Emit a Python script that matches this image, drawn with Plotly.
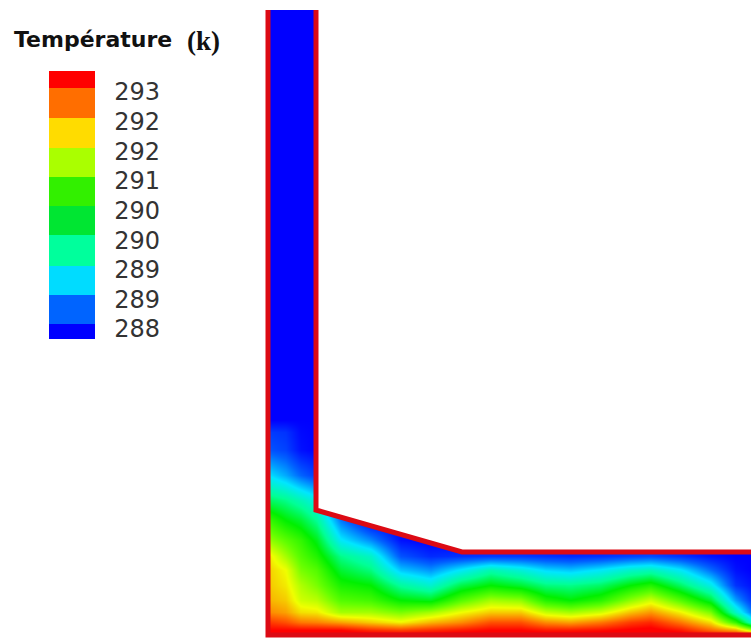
import plotly.graph_objects as go

# Temperature field (K)
x_grid = [270, 285, 300, 316, 340, 370, 400, 430, 460, 490, 520, 545, 570, 600, 630, 650, 680, 710, 735, 751]
y_grid = [10, 420, 432, 450, 475, 500, 520, 540, 556, 570, 585, 600, 612, 622, 630, 636]
T_rows = [
    [288.0] * 20,
    [288.0] * 20,
    [288.35, 288.3, 288.05, 288.0] + [288.0] * 16,
    [288.5, 288.4, 288.1, 288.0] + [288.0] * 16,
    [289.2, 288.95, 288.6, 288.35] + [288.0] * 16,
    [290.1, 289.95, 289.7, 289.4] + [288.0] * 16,
    [290.8, 290.5, 290.3, 289.9, 288.7] + [288.0] * 15,
    [291.3, 291.05, 290.8, 290.4, 289.3, 288.8, 288.1] + [288.0] * 13,
    [291.8, 291.4, 291.0, 290.7, 289.95, 289.6, 288.5, 288.25, 288.3, 288.35, 288.35, 288.3, 288.25, 288.3, 288.4, 288.45, 288.3, 288.1, 288.0, 288.0],
    [291.95, 291.75, 291.2, 291.0, 290.3, 290.0, 289.1, 288.85, 289.3, 289.75, 289.5, 289.2, 289.1, 289.3, 289.6, 289.7, 289.3, 288.65, 288.1, 288.0],
    [292.0, 291.85, 291.45, 291.2, 290.65, 290.5, 289.85, 289.55, 290.2, 290.5, 290.3, 290.0, 289.95, 290.1, 290.5, 290.7, 290.1, 289.4, 288.3, 288.1],
    [292.1, 292.0, 291.6, 291.5, 291.0, 290.9, 290.5, 290.4, 291.0, 291.4, 291.3, 290.7, 290.5, 290.75, 291.3, 291.6, 291.0, 290.3, 288.9, 288.3],
    [292.3, 292.2, 291.9, 291.85, 291.4, 291.4, 291.2, 291.4, 291.75, 292.0, 292.0, 291.55, 291.4, 291.6, 292.05, 292.25, 291.8, 291.2, 289.6, 288.7],
    [292.7, 292.6, 292.4, 292.35, 292.2, 292.0, 291.8, 292.1, 292.3, 292.6, 292.6, 292.3, 292.2, 292.4, 292.7, 292.8, 292.4, 291.9, 290.8, 289.6],
    [293.0, 293.0, 293.0, 293.0, 293.0, 292.8, 292.7, 292.8, 292.9, 293.0, 293.0, 292.9, 292.9, 292.95, 293.05, 293.1, 292.9, 292.5, 292.2, 291.5],
    [293.2] * 20,
]

# Everything outside the channel stays white
outside_x = [0, 751, 751, 462, 316, 316, 268, 268, 751, 751, 0]
outside_y = [0, 0, 552, 552, 510, 10, 10, 636, 636, 639, 639]
inner_wall_x = [316, 316, 462, 751]
inner_wall_y = [10, 510, 552, 552]
outer_wall_x = [268, 268, 751]
outer_wall_y = [10, 635, 635]

# Legend
band_edges = [287.79, 288.11, 288.72, 289.33, 289.98, 290.59, 291.21, 291.82, 292.45, 293.08, 293.44]
band_colors = ["#0000ff", "#0064ff", "#00dcff", "#00ff9c", "#00e632", "#32f000",
               "#aaff00", "#ffdc00", "#ff6e00", "#ff0000"]
tick_values = [293, 292.375, 291.75, 291.125, 290.5, 289.875, 289.25, 288.625, 288]
tick_labels = ["293", "292", "292", "291", "290", "290", "289", "289", "288"]
field_stops = [
    (288.0, "#0000ff"), (288.6, "#0064ff"), (289.25, "#00e6ff"), (289.9, "#00ff96"),
    (290.5, "#00f000"), (291.1, "#64ff00"), (291.75, "#f0ff00"), (292.4, "#ff7800"),
    (293.0, "#ff0000"),
]

cmin, cmax = band_edges[0], band_edges[-1]
norm = lambda v: (v - cmin) / (cmax - cmin)
field_scale = [[0, field_stops[0][1]]] + [[norm(v), c] for v, c in field_stops] + [[1, field_stops[-1][1]]]
step_scale = []
for i, c in enumerate(band_colors):
    step_scale += [[norm(band_edges[i]), c], [norm(band_edges[i + 1]), c]]

fig = go.Figure()
fig.add_trace(go.Heatmap(x=x_grid, y=y_grid, z=T_rows, zsmooth="best", zmin=cmin, zmax=cmax,
                         colorscale=field_scale, showscale=False, hoverinfo="skip"))
fig.add_trace(go.Scatter(x=outside_x, y=outside_y, fill="toself", fillcolor="white", mode="none",
                         hoverinfo="skip", showlegend=False))
for wx, wy in ((inner_wall_x, inner_wall_y), (outer_wall_x, outer_wall_y)):
    fig.add_trace(go.Scatter(x=wx, y=wy, mode="lines", line=dict(color="#dc0a14", width=5),
                             hoverinfo="skip", showlegend=False))
fig.add_trace(go.Scatter(
    x=[None] * len(band_edges), y=[None] * len(band_edges), mode="markers", showlegend=False,
    marker=dict(color=band_edges, cmin=cmin, cmax=cmax, colorscale=step_scale, showscale=True,
                colorbar=dict(thickness=46, thicknessmode="pixels", len=268, lenmode="pixels",
                              x=49 / 751, xanchor="left", y=1 - 71 / 639, yanchor="top",
                              xpad=0, ypad=0, outlinewidth=0, borderwidth=0,
                              tickmode="array", tickvals=tick_values, ticktext=tick_labels,
                              ticks="outside", ticklen=15, tickcolor="rgba(0,0,0,0)",
                              tickfont=dict(family="DejaVu Sans", size=24, color="#333333"))),
))

fig.update_layout(
    width=751, height=639, margin=dict(l=0, r=0, t=0, b=0, autoexpand=False),
    paper_bgcolor="white", plot_bgcolor="white", showlegend=False,
    xaxis=dict(range=[0, 751], visible=False, fixedrange=True),
    yaxis=dict(range=[639, 0], visible=False, fixedrange=True),
    annotations=[
        dict(text="<b>Température</b>", x=12, y=39, xref="x", yref="y", xanchor="left", yanchor="middle",
             showarrow=False, font=dict(family="DejaVu Sans", size=22, color="#111111")),
        dict(text="<b>(k)</b>", x=185, y=41, xref="x", yref="y", xanchor="left", yanchor="middle",
             showarrow=False, font=dict(family="Liberation Serif", size=27, color="#111111")),
    ],
)
fig.write_html("out.html", config={"displayModeBar": False},
               post_script="document.body.style.margin='0';")
